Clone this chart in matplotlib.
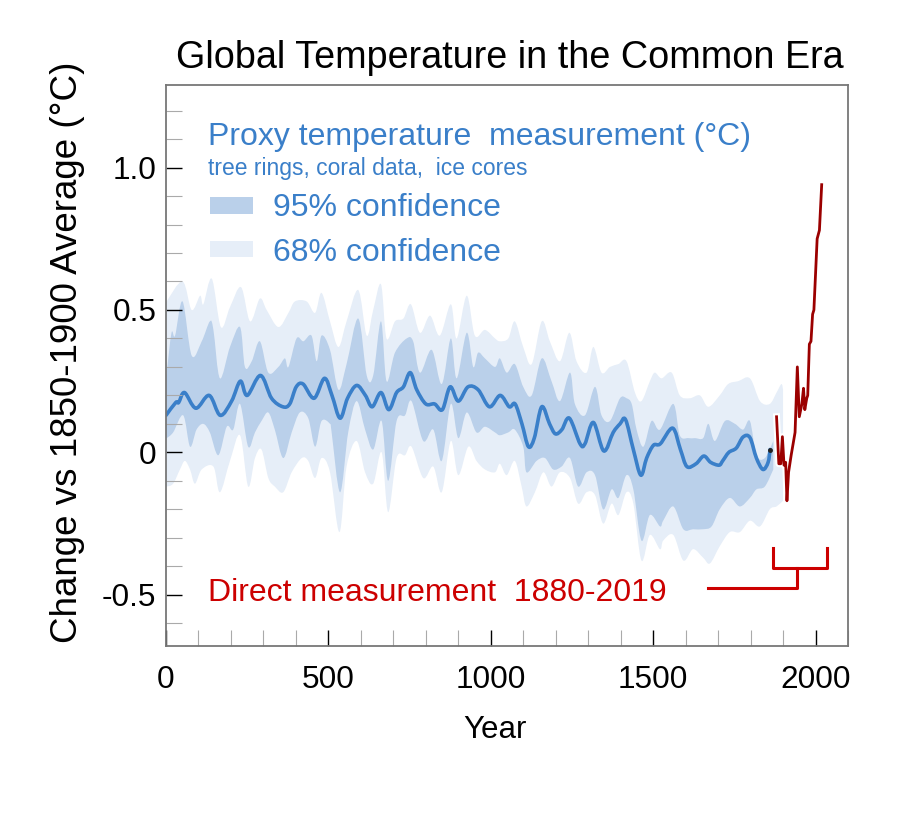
import matplotlib
matplotlib.use('Agg')
import matplotlib.pyplot as plt
import matplotlib.patheffects as pe
from matplotlib.path import Path
from matplotlib.patches import PathPatch
from matplotlib.ticker import MultipleLocator
import numpy as np

plt.rcParams['font.family'] = ['Liberation Sans', 'DejaVu Sans']

# proxy reconstruction (median)
proxy_yr = [0, 30, 39, 57, 92, 133, 167, 202, 229, 250, 291, 325, 360, 381, 401, 422, 456, 488, 511, 536,
            559, 587, 614, 635, 662, 686, 710, 731, 752, 772, 800, 827, 851, 875, 900, 930, 961, 996, 1029, 1057,
            1075, 1096, 1116, 1134, 1157, 1181, 1199, 1219, 1242, 1275, 1290, 1316, 1348, 1377, 1398, 1415, 1439, 1462, 1480, 1501,
            1522, 1560, 1584, 1604, 1632, 1656, 1677, 1703, 1714, 1733, 1756, 1777, 1798, 1818, 1838, 1854, 1860]
proxy_val = [0.13, 0.175, 0.175, 0.21, 0.155, 0.20, 0.13, 0.18, 0.25, 0.20, 0.27, 0.19, 0.16, 0.17, 0.23, 0.24, 0.19, 0.26, 0.20, 0.12,
             0.19, 0.235, 0.20, 0.16, 0.21, 0.15, 0.21, 0.23, 0.28, 0.22, 0.17, 0.17, 0.15, 0.23, 0.18, 0.23, 0.22, 0.16, 0.20, 0.16,
             0.17, 0.10, 0.02, 0.05, 0.16, 0.10, 0.065, 0.08, 0.12, 0.03, 0.03, 0.105, 0.005, 0.07, 0.10, 0.115, 0.01, -0.08, -0.02, 0.025,
             0.03, 0.085, 0.01, -0.05, -0.04, -0.013, -0.035, -0.045, -0.03, 0.00, 0.015, 0.054, 0.052, -0.02, -0.06, -0.035, 0.01]

# wide (light) band
light_up_yr = [0, 2, 51, 79, 105, 115, 141, 169, 197, 231, 259, 289, 310, 346, 377, 397, 433, 459, 479, 505,
               531, 556, 592, 618, 638, 662, 679, 705, 731, 754, 782, 813, 843, 877, 895, 926, 951, 982, 1013, 1028,
               1054, 1074, 1100, 1126, 1157, 1182, 1213, 1242, 1264, 1295, 1316, 1341, 1367, 1393, 1418, 1444, 1464, 1490, 1505, 1526,
               1557, 1582, 1613, 1644, 1670, 1705, 1731, 1762, 1798, 1829, 1859, 1880, 1895, 1900]
light_up_val = [0.52, 0.53, 0.60, 0.50, 0.55, 0.52, 0.61, 0.44, 0.51, 0.58, 0.46, 0.54, 0.50, 0.44, 0.49, 0.53, 0.53, 0.49, 0.56, 0.46,
                0.37, 0.46, 0.57, 0.41, 0.50, 0.59, 0.40, 0.46, 0.47, 0.52, 0.42, 0.48, 0.41, 0.52, 0.40, 0.55, 0.41, 0.43, 0.40, 0.39,
                0.40, 0.46, 0.37, 0.31, 0.46, 0.39, 0.32, 0.42, 0.32, 0.28, 0.37, 0.28, 0.30, 0.31, 0.32, 0.21, 0.18, 0.25, 0.28, 0.26,
                0.28, 0.20, 0.19, 0.20, 0.16, 0.20, 0.24, 0.25, 0.26, 0.18, 0.17, 0.21, 0.24, 0.22]
light_lo_yr = [0, 2, 22, 43, 58, 74, 89, 110, 146, 166, 197, 228, 253, 274, 294, 315, 335, 361, 387, 418,
               438, 459, 479, 505, 534, 556, 587, 613, 638, 664, 684, 710, 736, 756, 792, 823, 849, 877, 900, 931,
               956, 982, 1013, 1028, 1049, 1074, 1095, 1110, 1136, 1162, 1187, 1213, 1244, 1269, 1295, 1321, 1346, 1372, 1393, 1418,
               1439, 1464, 1490, 1521, 1531, 1562, 1593, 1623, 1654, 1675, 1705, 1736, 1767, 1798, 1829, 1859, 1880, 1900]
light_lo_val = [-0.12, -0.12, -0.11, -0.06, -0.03, -0.06, -0.11, -0.06, -0.05, -0.14, -0.03, 0.06, -0.12, -0.02, 0.01, -0.09, -0.12, -0.14, -0.07, -0.02,
                -0.03, -0.09, -0.02, -0.07, -0.28, -0.05, 0.04, -0.07, -0.11, 0.00, -0.21, -0.02, -0.01, 0.02, -0.09, -0.05, -0.14, 0.04, -0.08, 0.02,
                -0.03, -0.06, -0.07, -0.04, -0.08, -0.03, -0.12, -0.19, -0.14, -0.07, -0.12, -0.07, -0.09, -0.18, -0.14, -0.15, -0.25, -0.18, -0.22, -0.14,
                -0.18, -0.38, -0.29, -0.34, -0.31, -0.29, -0.38, -0.34, -0.37, -0.39, -0.33, -0.28, -0.28, -0.24, -0.26, -0.20, -0.19, -0.17]

# narrow (dark) band
dark_up_yr = [0, 2, 17, 28, 51, 79, 110, 135, 146, 166, 197, 228, 243, 264, 289, 315, 346, 366, 377, 402,
              423, 448, 464, 479, 505, 531, 556, 592, 618, 638, 662, 679, 705, 741, 761, 782, 818, 849, 877, 895,
              926, 946, 961, 982, 1013, 1028, 1049, 1074, 1100, 1126, 1157, 1187, 1213, 1244, 1259, 1290, 1321, 1341, 1367, 1398,
              1418, 1434, 1449, 1470, 1495, 1521, 1562, 1582, 1608, 1629, 1654, 1670, 1690, 1721, 1752, 1777, 1798, 1818, 1844, 1870]
dark_up_val = [0.28, 0.28, 0.42, 0.41, 0.53, 0.34, 0.39, 0.46, 0.43, 0.26, 0.37, 0.44, 0.30, 0.32, 0.39, 0.28, 0.30, 0.33, 0.30, 0.40,
               0.39, 0.41, 0.32, 0.41, 0.36, 0.22, 0.31, 0.47, 0.27, 0.27, 0.46, 0.25, 0.35, 0.40, 0.39, 0.28, 0.36, 0.24, 0.40, 0.26,
               0.42, 0.30, 0.35, 0.33, 0.30, 0.33, 0.28, 0.31, 0.23, 0.20, 0.33, 0.25, 0.18, 0.28, 0.17, 0.13, 0.23, 0.13, 0.11, 0.19,
               0.19, 0.17, 0.08, 0.02, 0.11, 0.08, 0.17, 0.06, 0.05, 0.05, 0.05, 0.10, 0.04, 0.11, 0.10, 0.08, 0.11, -0.01, -0.02, 0.04]
dark_lo_yr = [0, 2, 22, 53, 74, 94, 115, 135, 161, 187, 207, 228, 253, 274, 294, 315, 335, 361, 387, 412,
              438, 459, 479, 505, 510, 536, 561, 587, 613, 638, 664, 684, 710, 736, 756, 792, 823, 849, 877, 900,
              926, 956, 982, 1013, 1028, 1054, 1074, 1100, 1110, 1141, 1167, 1192, 1218, 1244, 1269, 1295, 1321, 1346, 1372, 1393,
              1418, 1439, 1464, 1490, 1521, 1531, 1562, 1593, 1623, 1654, 1680, 1705, 1736, 1767, 1798, 1818, 1844, 1870]
dark_lo_val = [0.05, 0.05, 0.07, 0.13, 0.02, 0.08, 0.10, 0.07, -0.01, 0.09, 0.08, 0.17, 0.02, 0.07, 0.11, 0.14, 0.08, -0.02, 0.07, 0.14,
               0.12, 0.02, 0.11, 0.10, 0.07, -0.14, 0.07, 0.18, 0.08, 0.01, 0.11, -0.10, 0.11, 0.13, 0.18, 0.04, 0.08, -0.03, 0.17, 0.05,
               0.14, 0.07, 0.09, 0.07, 0.06, 0.07, 0.08, 0.02, -0.07, -0.03, -0.02, -0.06, -0.05, -0.02, -0.12, -0.07, -0.08, -0.20, -0.13, -0.16,
               -0.08, -0.13, -0.31, -0.22, -0.26, -0.24, -0.19, -0.27, -0.27, -0.27, -0.26, -0.20, -0.16, -0.19, -0.16, -0.13, -0.12, -0.06]

# instrumental record
direct_yr = [1880, 1887, 1893, 1898, 1903, 1908, 1912, 1917, 1925, 1931, 1937, 1944, 1950, 1958, 1963, 1967, 1973, 1976,
             1981, 1986, 1991, 1995, 2005, 2012, 2019]
direct_val = [0.125, -0.04, -0.04, 0.055, -0.045, -0.035, -0.17, -0.07, -0.01, 0.03, 0.07, 0.30, 0.125, 0.17, 0.225, 0.15,
              0.19, 0.20, 0.38, 0.39, 0.485, 0.50, 0.75, 0.78, 0.94]

x_ticks = [0, 500, 1000, 1500, 2000]
y_ticks = [-0.5, 0, 0.5, 1.0]
y_ticklabels = ['-0.5', '0', '0.5', '1.0']

blue = '#3a7fc9'
dark_band = '#bad0ea'
light_band = '#e6eef8'
red = '#cc0000'


def curve(x, y):
    # smooth curve through the points (Catmull-Rom as cubic Beziers)
    p = np.column_stack([x, y]).astype(float)
    verts = [p[0]]
    for i in range(len(p) - 1):
        p0 = p[i - 1] if i > 0 else p[i]
        p3 = p[i + 2] if i + 2 < len(p) else p[i + 1]
        verts += [p[i] + (p[i + 1] - p0) / 6, p[i + 1] - (p3 - p[i]) / 6, p[i + 1]]
    return verts


def band(ux, uy, lx, ly):
    up = curve(ux, uy)
    lo = curve(lx[::-1], ly[::-1])
    verts = up + lo + [up[0]]
    codes = ([Path.MOVETO] + [Path.CURVE4] * (len(up) - 1) + [Path.LINETO] +
             [Path.CURVE4] * (len(lo) - 1) + [Path.CLOSEPOLY])
    return Path(verts, codes)


fig = plt.figure(figsize=(9, 8.27), dpi=100)
ax = fig.add_axes([166/900, (827-646)/827, (848-166)/900, (646-85)/827])

ax.add_patch(PathPatch(band(light_up_yr, light_up_val, light_lo_yr, light_lo_val), fc=light_band, lw=0))
ax.add_patch(PathPatch(band(dark_up_yr, dark_up_val, dark_lo_yr, dark_lo_val), fc=dark_band, lw=0))
pv = curve(proxy_yr, proxy_val)
ax.add_patch(PathPatch(Path(pv, [Path.MOVETO] + [Path.CURVE4] * (len(pv) - 1)), fill=False,
                       ec=blue, lw=2.6, joinstyle='round', capstyle='round'))
ax.plot(proxy_yr[-1:], proxy_val[-1:], 'o', color='#222222', ms=2.5)

ax.plot(direct_yr, direct_val, color='#9b0000', lw=2,
        path_effects=[pe.Stroke(linewidth=5, foreground='white'), pe.Normal()])

# bracket marking the direct measurement period
ax.plot([1869, 1869, 2035, 2035], [-0.337, -0.405, -0.405, -0.337], color=red, lw=2.2, solid_joinstyle='round')
ax.plot([1669, 1943, 1943], [-0.475, -0.475, -0.405], color=red, lw=2.2, solid_joinstyle='round')

ax.set_xlim(0, 2100)
ax.set_ylim(-0.68, 1.29)
ax.set_xticks(x_ticks)
ax.set_yticks(y_ticks)
ax.set_yticklabels(y_ticklabels)
ax.xaxis.set_minor_locator(MultipleLocator(100))
ax.yaxis.set_minor_locator(MultipleLocator(0.1))
ax.tick_params(which='major', direction='in', length=11.5, width=1, color='black',
               labelsize=22.7, top=False, right=False)
ax.tick_params(which='minor', direction='in', length=11.5, width=0.8, color='#aaaaaa', top=False, right=False)
ax.tick_params(axis='x', pad=14)
ax.tick_params(axis='y', pad=7)
for s in ax.spines.values():
    s.set_color('#777777')
    s.set_linewidth(1.3)

# legend-like text
ax.text(0.0616, 0.893, 'Proxy temperature  measurement (°C)', transform=ax.transAxes,
        color=blue, fontsize=23, va='baseline')
ax.text(0.0616, 0.840, 'tree rings, coral data,  ice cores', transform=ax.transAxes,
        color=blue, fontsize=16.5, va='baseline')
ax.add_patch(plt.Rectangle((0.0645, 0.770), 0.063, 0.031, transform=ax.transAxes, color=dark_band, lw=0))
ax.add_patch(plt.Rectangle((0.0645, 0.694), 0.063, 0.028, transform=ax.transAxes, color=light_band, lw=0))
ax.text(0.157, 0.767, '95% confidence', transform=ax.transAxes, color=blue, fontsize=23, va='baseline')
ax.text(0.157, 0.686, '68% confidence', transform=ax.transAxes, color=blue, fontsize=23, va='baseline')
ax.text(0.0616, 0.080, 'Direct measurement  1880-2019', transform=ax.transAxes,
        color=red, fontsize=23, va='baseline')

fig.text(510/900, 1 - 68/827, 'Global Temperature in the Common Era', ha='center', va='baseline', fontsize=27.2)
fig.text(68/900, 1 - 352/827, 'Change vs 1850-1900 Average (°C)', rotation=90, ha='center', va='center', fontsize=26.5)
fig.text(495/900, 1 - 730/827, 'Year', ha='center', va='center', fontsize=22.5)

fig.savefig('out.png', dpi=100)
